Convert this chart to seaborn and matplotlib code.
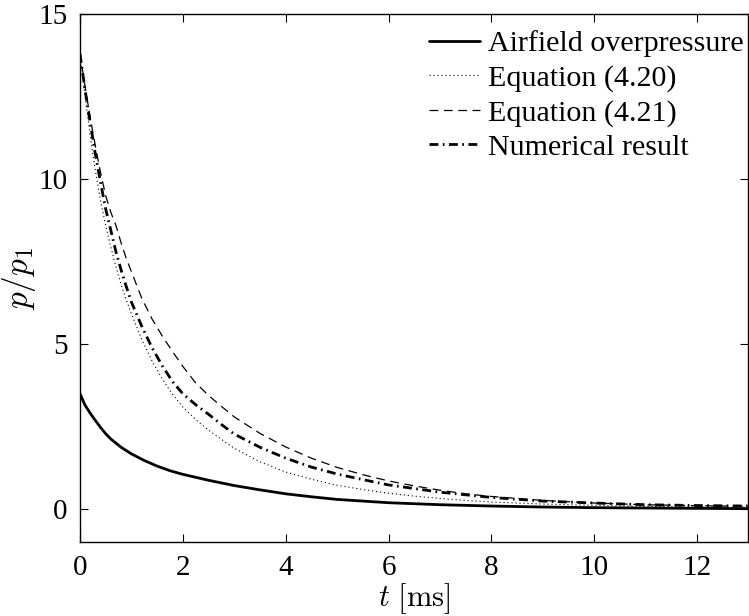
import numpy as np
import pandas as pd
import matplotlib
matplotlib.use("Agg")
import matplotlib.pyplot as plt
import seaborn as sns

# Airfield overpressure
t_air = [0, 0.1, 0.2, 0.3, 0.4, 0.5, 0.6, 0.8, 1.0, 1.25, 1.5, 1.75, 2.0, 2.5, 3.0,
         3.5, 4.0, 4.5, 5.0, 5.5, 6.0, 7.0, 8.0, 9.0, 10.0, 11.0, 12.0, 13.0]
p_air = [3.5, 3.15, 2.91, 2.69, 2.48, 2.29, 2.13, 1.88, 1.68, 1.48, 1.31, 1.17, 1.06, 0.88, 0.72,
         0.59, 0.47, 0.38, 0.30, 0.25, 0.20, 0.14, 0.10, 0.07, 0.05, 0.04, 0.03, 0.02]

# Equation (4.20)
t_eq20 = [0, 0.1, 0.2, 0.3, 0.4, 0.5, 0.6, 0.7, 0.8, 0.9, 1.0, 1.2, 1.4, 1.6, 1.8, 2.0,
          2.25, 2.5, 2.75, 3.0, 3.5, 4.0, 4.5, 5.0, 5.5, 6.0, 6.5, 7.0, 7.5, 8.0,
          9.0, 10.0, 11.0, 12.0, 13.0]
p_eq20 = [13.8, 12.5, 11.3, 10.25, 9.35, 8.6, 7.95, 7.35, 6.8, 6.35, 5.92, 5.15, 4.5, 3.95, 3.48, 3.1,
          2.72, 2.4, 2.12, 1.85, 1.44, 1.13, 0.91, 0.73, 0.6, 0.49, 0.4, 0.33, 0.27, 0.22,
          0.16, 0.12, 0.09, 0.07, 0.06]

# Equation (4.21)
t_eq21 = [0, 0.1, 0.2, 0.3, 0.4, 0.5, 0.6, 0.7, 0.8, 0.9, 1.0, 1.2, 1.4, 1.6, 1.8, 2.0,
          2.25, 2.5, 2.75, 3.0, 3.5, 4.0, 4.5, 5.0, 5.5, 6.0, 6.5, 7.0, 7.5, 8.0,
          9.0, 10.0, 11.0, 12.0, 13.0]
p_eq21 = [13.8, 12.8, 11.85, 11.0, 10.2, 9.5, 9.0, 8.6, 8.07, 7.6, 7.2, 6.4, 5.77, 5.25, 4.78, 4.33,
          3.83, 3.45, 3.12, 2.8, 2.3, 1.89, 1.55, 1.27, 1.05, 0.86, 0.71, 0.58, 0.47, 0.39,
          0.27, 0.19, 0.14, 0.11, 0.09]

# Numerical result
t_num = [0, 0.1, 0.2, 0.3, 0.4, 0.5, 0.6, 0.7, 0.8, 0.9, 1.0, 1.2, 1.4, 1.6, 1.8, 2.0,
         2.25, 2.5, 2.75, 3.0, 3.5, 4.0, 4.5, 5.0, 5.5, 6.0, 6.5, 7.0, 7.5, 8.0,
         9.0, 10.0, 11.0, 12.0, 13.0]
p_num = [13.8, 12.7, 11.7, 10.75, 9.9, 9.1, 8.45, 7.8, 7.25, 6.75, 6.28, 5.55, 4.9, 4.35, 3.87, 3.5,
         3.17, 2.88, 2.57, 2.28, 1.88, 1.55, 1.28, 1.07, 0.9, 0.74, 0.63, 0.52, 0.44, 0.36,
         0.25, 0.19, 0.14, 0.115, 0.10]

x_ticks = [0, 2, 4, 6, 8, 10, 12]
y_ticks = [0, 5, 10, 15]

sns.set_theme(style="ticks")
plt.rcParams["font.family"] = ["Liberation Serif", "DejaVu Serif"]
plt.rcParams["mathtext.fontset"] = "cm"
plt.rcParams["text.color"] = "black"
plt.rcParams["axes.labelcolor"] = "black"
plt.rcParams["xtick.color"] = "black"
plt.rcParams["ytick.color"] = "black"

fig = plt.figure(figsize=(7.49, 6.16), dpi=100)
ax = fig.add_axes([0.1068, 0.1196, 0.8925, 0.8572])

series = [
    ("Airfield overpressure", t_air, p_air, dict(linewidth=2.0, linestyle="-")),
    ("Equation (4.20)", t_eq20, p_eq20, dict(linewidth=0.8, linestyle=(0, (1, 2.6)))),
    ("Equation (4.21)", t_eq21, p_eq21, dict(linewidth=0.9, linestyle=(0, (7, 4.5)))),
    ("Numerical result", t_num, p_num, dict(linewidth=2.0, linestyle=(0, (3.2, 1.6, 0.6, 1.6)))),
]
for label, t, p, style in series:
    df = pd.DataFrame({"t": t, "p": p})
    sns.lineplot(data=df, x="t", y="p", ax=ax, color="black", label=label, **style)

ax.set_xlim(0, 13)
ax.set_ylim(-1, 15)
ax.set_xticks(x_ticks)
ax.set_yticks(y_ticks)
ax.tick_params(direction="in", length=6, width=0.8, top=True, right=True,
               labelsize=21, pad=9, colors="black", labelcolor="black")
for s in ax.spines.values():
    s.set_visible(True)
    s.set_linewidth(1.0)
    s.set_color("black")

ax.set_xlabel(r"$t\ [\mathrm{ms}]$", fontsize=22, labelpad=0, color="black")
ax.set_ylabel(r"$p/p_1$", fontsize=24, labelpad=0, color="black")

leg = ax.legend(loc="upper right", bbox_to_anchor=(0.997, 0.975), frameon=False,
                fontsize=21.6, handlelength=1.7, handletextpad=0.25, labelspacing=0.24,
                borderaxespad=0, borderpad=0.1)
for txt in leg.get_texts():
    txt.set_color("black")

fig.savefig("out.png", dpi=100, facecolor="white")
